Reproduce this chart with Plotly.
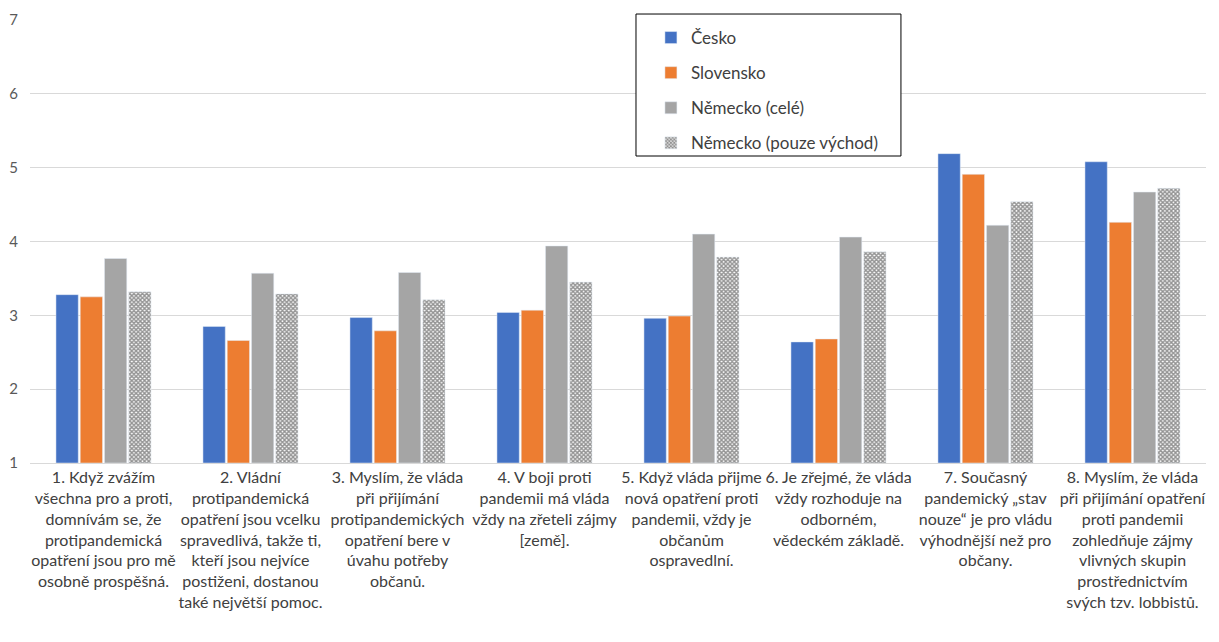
import plotly.graph_objects as go

categories = [
    "1. Když zvážím<br>všechna pro a proti,<br>domnívám se, že<br>protipandemická<br>opatření jsou pro mě<br>osobně prospěšná.",
    "2. Vládní<br>protipandemická<br>opatření jsou vcelku<br>spravedlivá, takže ti,<br>kteří jsou nejvíce<br>postiženi, dostanou<br>také největší pomoc.",
    "3. Myslím, že vláda<br>při přijímání<br>protipandemických<br>opatření bere v<br>úvahu potřeby<br>občanů.",
    "4. V boji proti<br>pandemii má vláda<br>vždy na zřeteli zájmy<br>[země].",
    "5. Když vláda přijme<br>nová opatření proti<br>pandemii, vždy je<br>občanům<br>ospravedlní.",
    "6. Je zřejmé, že vláda<br>vždy rozhoduje na<br>odborném,<br>vědeckém základě.",
    "7. Současný<br>pandemický „stav<br>nouze“ je pro vládu<br>výhodnější než pro<br>občany.",
    "8. Myslím, že vláda<br>při přijímání opatření<br>proti pandemii<br>zohledňuje zájmy<br>vlivných skupin<br>prostřednictvím<br>svých tzv. lobbistů.",
]

cesko = [3.28, 2.85, 2.97, 3.04, 2.96, 2.64, 5.19, 5.08]
slovensko = [3.25, 2.66, 2.79, 3.07, 2.99, 2.68, 4.91, 4.26]
nemecko = [3.77, 3.57, 3.58, 3.94, 4.10, 4.06, 4.22, 4.67]
nemecko_vychod = [3.32, 3.29, 3.21, 3.45, 3.79, 3.86, 4.54, 4.72]

series = [
    ("Česko", cesko, dict(color="#4472C4")),
    ("Slovensko", slovensko, dict(color="#ED7D31")),
    ("Německo (celé)", nemecko, dict(color="#A5A5A5")),
    ("Německo (pouze východ)", nemecko_vychod,
     dict(color="white", pattern=dict(shape="x", size=3, solidity=0.7,
                                      fgcolor="#262626", bgcolor="white"))),
]

fig = go.Figure()
for i, (name, vals, marker) in enumerate(series):
    fig.add_trace(go.Bar(
        name=name, x=categories, y=[v - 1 for v in vals], base=1,
        customdata=vals, marker=marker, legendgroup=str(i),
        hovertemplate="%{customdata}<extra>" + name + "</extra>",
    ))

# legend frame (Excel-style box wider than the entries)
fig.add_shape(type="rect", xref="paper", yref="paper",
              x0=0.5153, x1=0.7406, y0=0.693, y1=1.0135,
              line=dict(color="black", width=1), fillcolor="white", layer="above")

fig.update_layout(
    width=1211, height=634,
    margin=dict(l=22, r=13, t=12, b=179),
    plot_bgcolor="white", paper_bgcolor="white",
    barmode="group", bargap=0.34, bargroupgap=0.08,
    font=dict(family="Lato, Open Sans, sans-serif", color="#404040"),
    legend=dict(
        x=0.528, y=1.0, xanchor="left", yanchor="top",
        xref="paper", yref="paper",
        borderwidth=0, bgcolor="rgba(0,0,0,0)",
        font=dict(size=17, color="#404040"),
        traceorder="grouped", tracegroupgap=10, itemwidth=30,
    ),
    showlegend=True,
)
fig.update_xaxes(
    tickfont=dict(size=16, color="#404040"),
    showline=True, linecolor="#d9d9d9", linewidth=1,
    ticks="", automargin=False, tickangle=0,
)
fig.update_yaxes(
    range=[1, 7], dtick=1, tick0=1,
    showgrid=True, gridcolor="#d9d9d9", gridwidth=1,
    tickfont=dict(size=15, color="#595959"),
    zeroline=False, showline=False, ticks="",
    ticklabelstandoff=11, automargin=False,
)

fig.write_html("out.html")
